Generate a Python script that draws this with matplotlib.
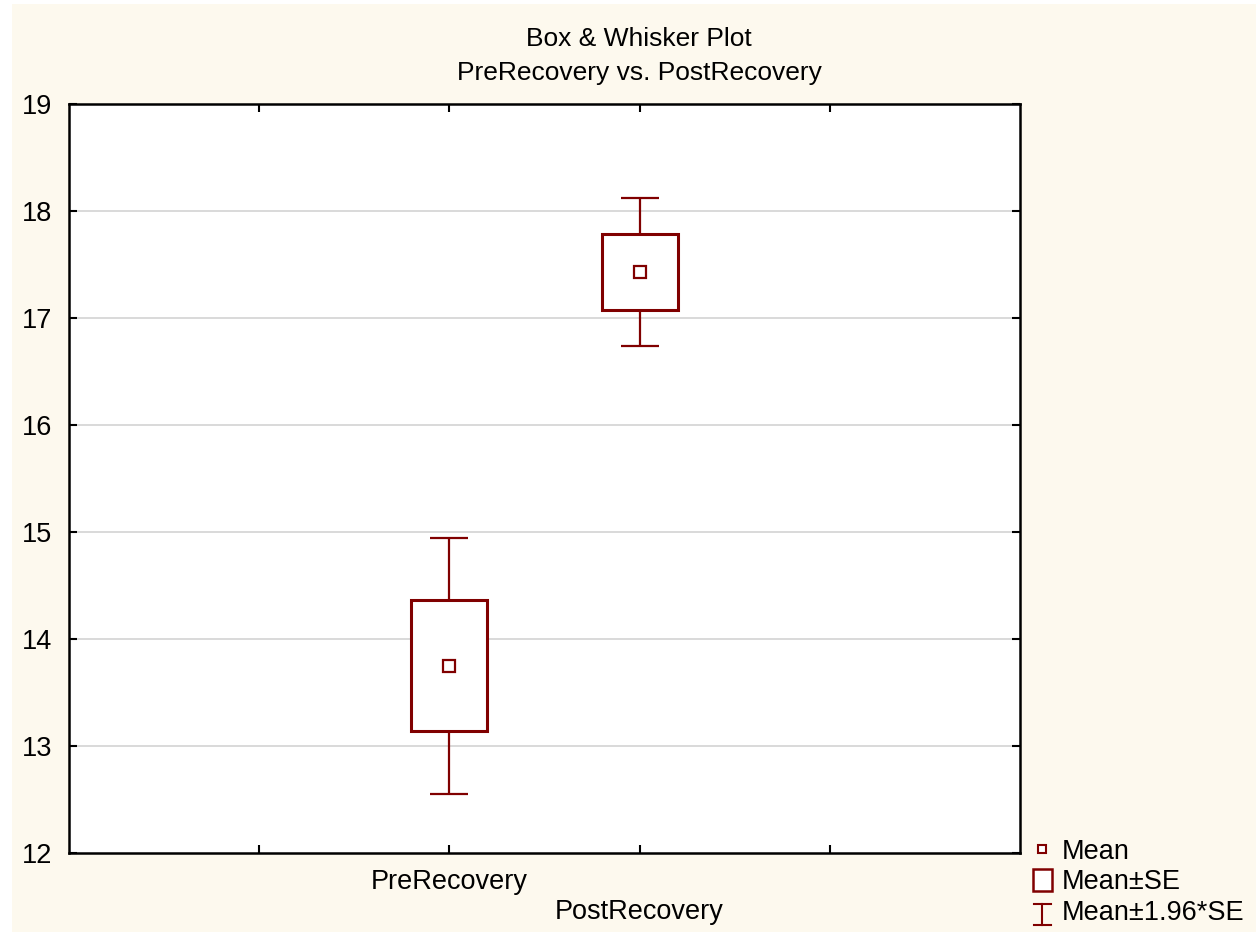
import numpy as np
import matplotlib
matplotlib.use("Agg")
import matplotlib.pyplot as plt
from matplotlib.patches import Rectangle
from matplotlib.lines import Line2D

plt.rcParams["font.family"] = ["Liberation Sans", "DejaVu Sans"]

# values
categories = ["PreRecovery", "PostRecovery"]
positions = [2, 3]
means = [13.75, 17.43]
se = [0.61, 0.355]
yticks = [12, 13, 14, 15, 16, 17, 18, 19]

RED = "#800000"
CREAM = "#fdf9ee"

W, H = 1258, 934
fig = plt.figure(figsize=(W / 100, H / 100), dpi=100, facecolor="white")
# cream panel with a thin white edge, like the original export
fig.add_artist(Rectangle((12 / W, 2 / H), 1244 / W, 928 / H, transform=fig.transFigure,
                         facecolor=CREAM, edgecolor="none", zorder=-10))

ax = fig.add_axes([69 / W, 81 / H, 951 / W, 749 / H])
ax.set_facecolor("white")
ax.set_xlim(0, 5)
ax.set_ylim(12, 19)

# horizontal grid
for y in yticks[1:-1]:
    ax.axhline(y, color="#d9d9d9", lw=1.4, zorder=0)

box_w = 0.4
cap_w = 0.2
for x, m, s in zip(positions, means, se):
    lo, hi = m - s, m + s
    wlo, whi = m - 1.96 * s, m + 1.96 * s
    ax.vlines(x, hi, whi, color=RED, lw=1.6, zorder=2)
    ax.vlines(x, wlo, lo, color=RED, lw=1.6, zorder=2)
    ax.hlines([wlo, whi], x - cap_w / 2, x + cap_w / 2, color=RED, lw=1.6, zorder=2)
    ax.add_patch(Rectangle((x - box_w / 2, lo), box_w, hi - lo, facecolor="white",
                           edgecolor=RED, lw=2.2, zorder=3))
    ax.plot([x], [m], marker="s", ms=8, mfc="white", mec=RED, mew=1.6, zorder=4)

ax.set_yticks(yticks)
ax.set_xticks([1, 2, 3, 4])
ax.set_xticklabels([])
ax.tick_params(direction="in", length=6, width=1.5, top=True, right=True,
               labelsize=19.5, pad=8, colors="black")
ax.tick_params(axis="y", pad=12)
for sp in ax.spines.values():
    sp.set_linewidth(1.8)

# staggered category labels
offsets = [-29, -59]
for x, lab, off in zip(positions, categories, offsets):
    ax.annotate(lab, (x, 0), xycoords=ax.get_xaxis_transform(), xytext=(0, off),
                textcoords="offset pixels", ha="center", va="center", fontsize=19.5)

# title
fig.text(639 / W, 1 - 39 / H, "Box & Whisker Plot", ha="center", va="center", fontsize=19)
fig.text(639 / W, 1 - 73 / H, "PreRecovery vs. PostRecovery", ha="center", va="center", fontsize=19)

# legend drawn by hand
def fx(px):
    return px / W

def fy(py):
    return 1 - py / H

fig.add_artist(Line2D([fx(1042)], [fy(849)], transform=fig.transFigure, marker="s", ms=6,
                      mfc="white", mec=RED, mew=1.5))
fig.add_artist(Rectangle((fx(1033), fy(891)), 19 / W, 22 / H, transform=fig.transFigure,
                         facecolor="white", edgecolor=RED, lw=1.8))
fig.add_artist(Line2D([fx(1042), fx(1042)], [fy(904), fy(925)], transform=fig.transFigure,
                      color=RED, lw=1.5))
fig.add_artist(Line2D([fx(1034), fx(1051)], [fy(904), fy(904)], transform=fig.transFigure,
                      color=RED, lw=1.5))
fig.add_artist(Line2D([fx(1034), fx(1051)], [fy(925), fy(925)], transform=fig.transFigure,
                      color=RED, lw=1.5))
for py, lab in zip([852, 882, 913], ["Mean", "Mean±SE", "Mean±1.96*SE"]):
    fig.text(fx(1062), fy(py), lab, ha="left", va="center", fontsize=19.5)

fig.savefig("out.png", dpi=100, facecolor="white")
